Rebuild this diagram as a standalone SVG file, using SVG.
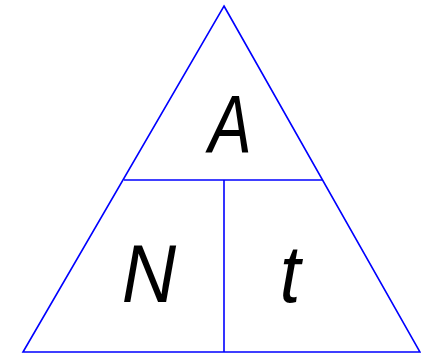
<svg xmlns="http://www.w3.org/2000/svg" width="421" height="355" viewBox="0 0 421 355">
<style>
.ln{stroke:#0000ff;stroke-width:1.6;fill:none;}
.lb{font-family:"Liberation Sans",Arial,sans-serif;font-style:italic;font-size:81px;fill:#000;text-anchor:middle;}
</style>
<rect width="421" height="355" fill="#fff"/>
<g id="connectors">
<polygon class="ln" points="224,6 420,352 23,352"/>
<line class="ln" x1="124" y1="180" x2="322" y2="180"/>
<line class="ln" x1="224" y1="180" x2="224" y2="352"/>
</g>
<g id="node-A"><text class="lb" transform="translate(230,152) scale(0.8,1)">A</text></g>
<g id="node-N"><text class="lb" transform="translate(149,302) scale(0.93,1)">N</text></g>
<g id="node-t"><text class="lb" transform="translate(290,302) scale(0.92,1)">t</text></g>
</svg>
